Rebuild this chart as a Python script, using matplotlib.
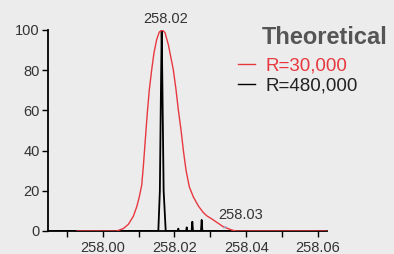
import matplotlib
matplotlib.use("Agg")
import matplotlib.pyplot as plt
from matplotlib.lines import Line2D

plt.rcParams['font.family'] = ['Liberation Sans', 'DejaVu Sans']

# R=30,000 profile
red_mz = [257.99287, 258.00393, 258.00577, 258.00716, 258.00855, 258.00950,
          258.01022, 258.01089, 258.01134, 258.01189, 258.01245, 258.01301,
          258.01368, 258.01432, 258.01507, 258.01579, 258.01663, 258.01738,
          258.01830, 258.01969, 258.02045, 258.02109, 258.02184, 258.02248,
          258.02323, 258.02415, 258.02526, 258.02666, 258.02790, 258.02900,
          258.03084, 258.03362, 258.03596, 258.03716, 258.06251]
red_int = [0, 0, 1.2, 3.3, 7.3, 12, 17, 22.8, 32, 45.3, 58.7, 70.3, 80.3, 88.7,
           95.3, 99, 100, 98.7, 92.8, 80.3, 70.3, 60.3, 50.3, 40.3, 30.3, 22,
           17, 12.5, 9.5, 7.6, 5.5, 2.1, 0.5, 0, 0]

# R=480,000 profile
blk_mz = [257.98487, 258.01552, 258.01595, 258.01625, 258.01646, 258.01667,
          258.01700, 258.01758, 258.02095, 258.02109, 258.02123, 258.02328,
          258.02343, 258.02358, 258.02480, 258.02499, 258.02518, 258.02740,
          258.02760, 258.02780, 258.06251]
blk_int = [0, 0, 20, 70, 100, 70, 20, 0, 0, 1.2, 0, 0, 1.8, 0, 0, 4.6, 0, 0,
           5.5, 0, 0]

x_ticks = [257.99, 258.00, 258.01, 258.02, 258.03, 258.04, 258.05, 258.06]
x_labels = ['', '258.00', '', '258.02', '', '258.04', '', '258.06']
y_ticks = [0, 20, 40, 60, 80, 100]

peak_label = '258.02'
minor_label = '258.03'

red = '#e8383f'
bg = '#ececec'

fig = plt.figure(figsize=(3.94, 2.54), dpi=100, facecolor=bg)
ax = fig.add_axes([48.3 / 394, 23 / 254, (327 - 48.3) / 394, 201 / 254])
ax.set_facecolor(bg)

ax.plot(blk_mz, blk_int, color='black', lw=1.3, zorder=2)
ax.plot(red_mz, red_int, color=red, lw=1.0, zorder=3)

ax.set_xlim(257.98487, 258.06251)
ax.set_ylim(0, 100)

ax.set_xticks(x_ticks)
ax.set_xticklabels(x_labels)
ax.set_yticks(y_ticks)
ax.tick_params(axis='both', colors='black', labelcolor='#333333',
               labelsize=10.5, width=1.0, length=4.5)
ax.tick_params(axis='x', pad=3)
ax.tick_params(axis='y', pad=1.5)

for s in ['top', 'right']:
    ax.spines[s].set_visible(False)
for s in ['left', 'bottom']:
    ax.spines[s].set_linewidth(1.3)
    ax.spines[s].set_zorder(2.5)

ax.annotate(peak_label, xy=(blk_mz[4], 100), xytext=(3, 3),
            textcoords='offset points', ha='center', va='bottom',
            fontsize=10.5, color='#333333', annotation_clip=False)

ax.annotate(minor_label, xy=(258.03318, 0.5), xytext=(258.03833, 8),
            ha='center', va='center', fontsize=10.5, color='#333333',
            arrowprops=dict(arrowstyle='-', color='#8ab8dc', lw=0.8))

fig.text(325 / 394, 1 - 37 / 254, 'Theoretical', ha='center', va='center',
         fontsize=17, fontweight='bold', color='#555555')

handles = [Line2D([], [], color=red, lw=1.0), Line2D([], [], color='black', lw=1.0)]
leg = fig.legend(handles, ['R=30,000', 'R=480,000'], loc='upper left',
                 bbox_to_anchor=(238 / 394, 1 - 57 / 254), frameon=False,
                 fontsize=13.5, handlelength=0.9, handletextpad=0.55,
                 labelspacing=0.15, borderpad=0, borderaxespad=0)
leg.get_texts()[0].set_color(red)
leg.get_texts()[1].set_color('#222222')

fig.savefig('out.png', dpi=100, facecolor=bg)
